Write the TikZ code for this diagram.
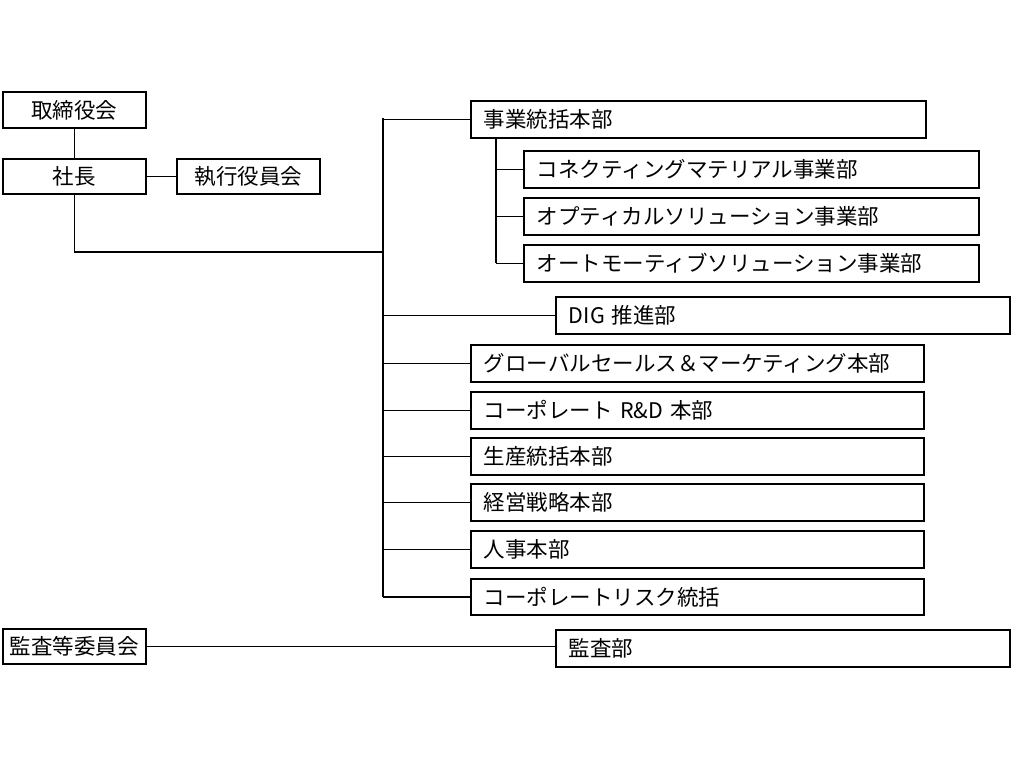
\documentclass[tikz,border=0pt]{standalone}
\usepackage{fontspec}
\setmainfont{Noto Sans CJK JP}
\begin{document}
\begin{tikzpicture}[x=1pt,y=-1pt,line width=1.8pt,
  bx/.style={draw,anchor=north west,inner sep=0pt,font=\fontsize{21.5}{22}\selectfont},
  every path/.style={line width=1.8pt}]
\useasboundingbox (0,0) rectangle (1011,758);
\newcommand{\wbox}[6]{\node[bx,minimum width=#3-#2,minimum height=#5-#4,text width=#3-#2-26pt,align=left] (#1) at (#2,#4) {\hspace*{0pt}#6};}
\newcommand{\cbox}[6]{\node[bx,minimum width=#3-#2,minimum height=#5-#4,align=center] (#1) at (#2,#4) {#6};}
\cbox{tori}{2}{145}{91}{127}{取締役会}
\cbox{sha}{2}{145}{158}{193}{社長}
\cbox{shik}{176}{319}{158}{193}{執行役員会}
\cbox{kan}{2}{145}{628}{663}{監査等委員会}
\wbox{jigyo}{470}{925}{100}{137}{事業統括本部}
\wbox{kon}{523}{978}{150}{187}{コネクティングマテリアル事業部}
\wbox{opt}{523}{978}{197}{234}{オプティカルソリューション事業部}
\wbox{auto}{523}{978}{244}{281}{オートモーティブソリューション事業部}
\wbox{dig}{555}{1009}{296}{333}{DIG 推進部}
\wbox{glo}{470}{923}{344}{381}{グローバルセールス＆マーケティング本部}
\wbox{rd}{470}{923}{391}{428}{コーポレート R\&D 本部}
\wbox{sei}{470}{923}{437}{474}{生産統括本部}
\wbox{kei}{470}{923}{483}{520}{経営戦略本部}
\wbox{jin}{470}{923}{530}{567}{人事本部}
\wbox{risk}{470}{923}{578}{614}{コーポレートリスク統括}
\wbox{kansa}{555}{1009}{629}{666}{監査部}
\draw (tori) -- (sha);
\draw (sha) -- (shik);
\coordinate (top) at (383,118);
\coordinate (bot) at (383,597);
\draw (sha.south) |- (383,252);
\draw (top) -- (bot);
\foreach \n in {jigyo,dig,glo,rd,sei,kei,jin,risk} \draw (383,0 |- \n.west) -- (\n.west);
\draw (496,137) -- (496,263 |- auto.west);
\foreach \n in {kon,opt,auto} \draw (496,0 |- \n.west) -- (\n.west);
\draw (kan.east) -- (kan.east -| kansa.west);
\end{tikzpicture}
\end{document}
